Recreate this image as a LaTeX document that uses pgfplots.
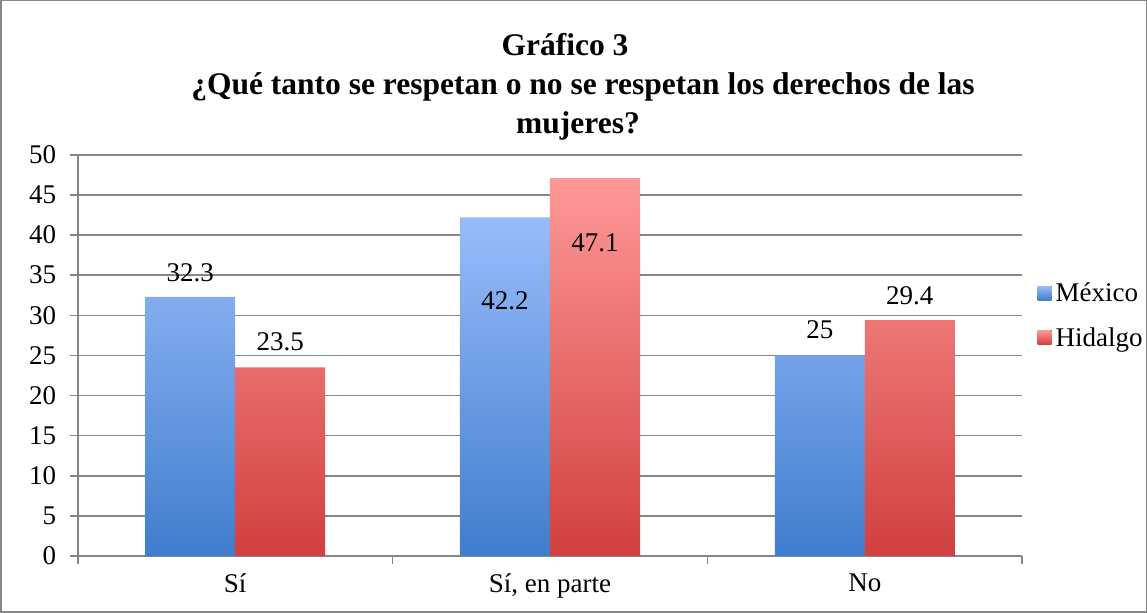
\documentclass[border=0pt]{standalone}
\usepackage{fontspec}
\setmainfont{Liberation Serif}
\usepackage{pgfplots}
\usepackage{pgfplotstable}
\pgfplotsset{compat=1.18}

\definecolor{blueTop}{RGB}{152,188,250}
\definecolor{blueBot}{RGB}{64,125,205}
\definecolor{redTop}{RGB}{255,152,152}
\definecolor{redBot}{RGB}{208,64,62}
\definecolor{gridgray}{RGB}{134,134,134}

% x = category, y = percent, off = label shift (pt)
\pgfplotstableread{
x y off
0 32.3 24
1 42.2 -83
2 25.0 26
}\mexico
\pgfplotstableread{
x y off
0 23.5 26
1 47.1 -65
2 29.4 24
}\hidalgo

\begin{document}
\begin{tikzpicture}
\draw[gridgray, line width=1.5pt] (1pt,1pt) rectangle (1146pt,612pt);
\node[font=\fontsize{31.5}{39}\selectfont\bfseries, align=center] at (583pt,526pt)
  {Gráfico 3\hspace*{36pt}\\¿Qué tanto se respetan o no se respetan los derechos de las\\mujeres?\hspace*{10pt}};
\begin{axis}[
  at={(78pt,57pt)}, anchor=south west,
  scale only axis, width=944pt, height=401pt,
  ybar=0pt, bar width=90pt,
  xmin=-0.5, xmax=2.5, ymin=0, ymax=50,
  ytick={0,5,...,50},
  xtick={0,1,2},
  xticklabels={Sí, {Sí, en parte}, No},
  major x tick style={draw=none},
  extra x ticks={-0.5,0.5,1.5,2.5},
  extra x tick labels={},
  extra x tick style={major x tick style={draw=gridgray, line width=1.5pt}},
  axis x line*=bottom, axis y line*=left,
  axis line style={gridgray, line width=1.5pt, -},
  tick align=outside,
  major tick length=8pt,
  y tick style={gridgray, line width=1.5pt},
  ymajorgrids, grid style={gridgray, line width=1.5pt},
  tick label style={font=\fontsize{27}{30}\selectfont},
  /pgf/number format/assume math mode=true,
  yticklabel style={xshift=-10pt},
  xticklabel style={yshift=-6pt},
  nodes near coords,
  visualization depends on={\thisrow{off} \as \myoff},
  every node near coord/.append style={anchor=center, yshift=\myoff pt,
    font=\fontsize{27}{30}\selectfont},
  legend style={draw=none, fill=none, at={(1.016,0.60)}, anchor=west,
    font=\fontsize{27}{30}\selectfont, row sep=20pt, inner sep=0pt,
    nodes={inner xsep=4pt}},
  legend cell align=left,
  legend image code/.code={\fill[#1] (0pt,-7pt) rectangle (14pt,7pt);},
]
\addplot[draw=none, top color=blueTop, bottom color=blueBot] table[x=x, y=y] {\mexico};
\addlegendentry{México}
\addplot[draw=none, top color=redTop, bottom color=redBot] table[x=x, y=y] {\hidalgo};
\addlegendentry{Hidalgo}
\end{axis}
\end{tikzpicture}
\end{document}
